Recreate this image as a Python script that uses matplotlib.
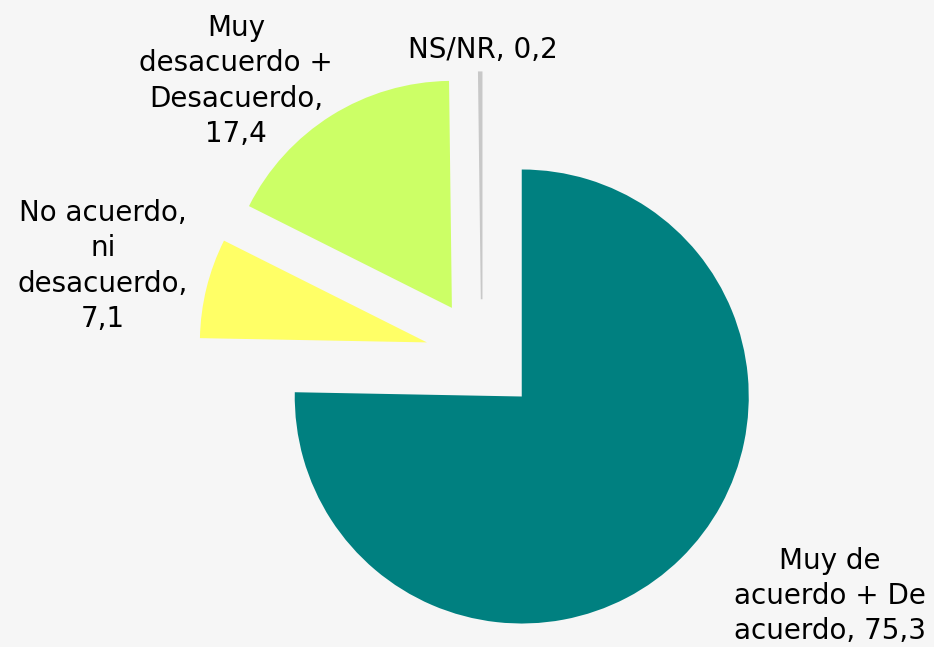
import matplotlib
matplotlib.use('Agg')
import matplotlib.pyplot as plt

# datos
etiquetas = ['Muy de\nacuerdo + De\nacuerdo, 75,3',
             'No acuerdo,\nni\ndesacuerdo,\n7,1',
             'Muy\ndesacuerdo +\nDesacuerdo,\n17,4',
             'NS/NR, 0,2']
valores = [75.3, 7.1, 17.4, 0.2]
colores = ['#008080', '#ffff66', '#ccff66', '#c8c8c8']
separacion = [0.25, 0.25, 0.25, 0.25]

fondo = '#f6f6f6'
fig = plt.figure(figsize=(9.34, 6.47), dpi=100, facecolor=fondo)
ax = fig.add_axes([0, 0, 1, 1])
ax.set_facecolor(fondo)

# centro del pastel en pixeles (482, 356), radio 227 px
R = 227.0
cx, cy = 482.0, 356.0
cunas, _ = ax.pie(valores, colors=colores, explode=separacion, startangle=90,
                  counterclock=False, radius=1.0, center=(0, 0),
                  wedgeprops=dict(linewidth=0))
# la cuna de NS/NR es muy fina, se le da un borde para que se vea
cunas[3].set_edgecolor(colores[3])
cunas[3].set_linewidth(1.2)

ax.set_xlim(-cx / R, (934 - cx) / R)
ax.set_ylim((cy - 647) / R, cy / R)
ax.set_aspect('auto')
ax.axis('off')

# posiciones de etiquetas (pixeles)
pos_etiquetas = [(830, 596), (103, 266), (236, 81), (483, 50)]
for txt, (px, py) in zip(etiquetas, pos_etiquetas):
    ax.text(px / 934, 1 - py / 647, txt, transform=ax.transAxes,
            ha='center', va='center', multialignment='center',
            fontsize=20, color='black', linespacing=1.33)

plt.savefig('out.png', dpi=100, facecolor=fondo)
plt.close()
